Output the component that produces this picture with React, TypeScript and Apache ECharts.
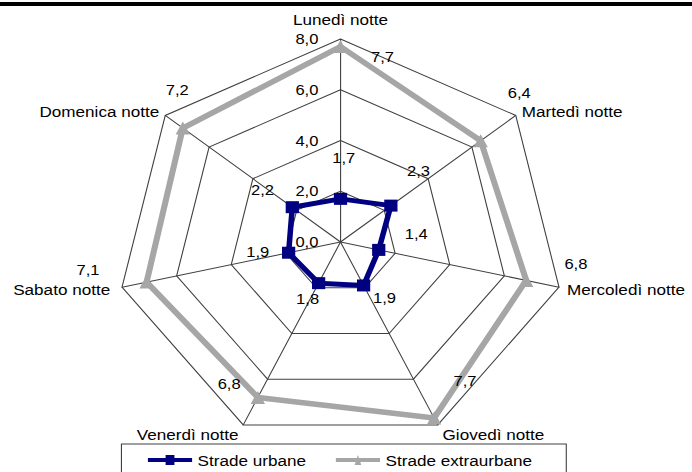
import React, { useEffect, useRef } from "react";
import * as echarts from "echarts";

// ---- data ----
const categories = [
  "Lunedì notte",
  "Martedì notte",
  "Mercoledì notte",
  "Giovedì notte",
  "Venerdì notte",
  "Sabato notte",
  "Domenica notte",
];
const urbane = [1.7, 2.3, 1.4, 1.9, 1.8, 1.9, 2.2];
const extraurbane = [7.7, 6.4, 6.8, 7.7, 6.8, 7.1, 7.2];
const seriesNames = ["Strade urbane", "Strade extraurbane"];
const axisMin = 0;
const axisMax = 8;
const axisSplits = 4;

// ---- styles (label offsets per category, px) ----
const urbaneLabelOffsets = [
  [3, -41], [25, -35], [34, -16], [19, 12], [-10, 16], [-28, -1], [-27, -17],
];
const extraLabelOffsets = [
  [38, 10], [35, -48], [45, -17], [28, -37], [-26, -14], [-53, -12], [-5, -38],
];
const nameGaps = [12, 7, 7.5, 10, 10, 11, 7];

const SCALE_X = 1.104;
const W = 692 / SCALE_X;
const H = 472;
const FONT = "'Liberation Sans', Arial, sans-serif";
const BLUE = "#000080";
const GREY = "#A6A6A6";

// echarts places indicators counter-clockwise from the top; the reference runs clockwise
const order = [0, 6, 5, 4, 3, 2, 1];
const fmt = (v: number) => v.toFixed(1).replace(".", ",");
const ordered = (arr: number[]) => order.map((i) => arr[i]);

export default function App() {
  const ref = useRef<HTMLDivElement>(null);

  useEffect(() => {
    if (!ref.current) return;
    const chart = echarts.init(ref.current, undefined, { renderer: "svg" });

    const indicator = order.map((ci, k) => {
      const ind: any = {
        name: categories[ci],
        min: axisMin,
        max: axisMax,
        nameGap: nameGaps[ci],
      };
      if (k === 0) {
        ind.axisLabel = {
          show: true,
          showMinLabel: true,
          showMaxLabel: true,
          margin: 20,
          color: "#000",
          fontSize: 15,
          fontFamily: FONT,
          formatter: (v: number) => fmt(v),
        };
      }
      return ind;
    });

    const labelItems: any[] = [];
    [urbane, extraurbane].forEach((vals, s) => {
      const offs = s === 0 ? urbaneLabelOffsets : extraLabelOffsets;
      categories.forEach((_, ci) => {
        const dimPos = order.indexOf(ci);
        labelItems.push({
          name: `lbl-${s}-${ci}`,
          value: ordered(vals),
          label: {
            show: true,
            position: "inside",
            offset: offs[ci],
            color: "#000",
            fontSize: 15,
            fontFamily: FONT,
            formatter: (p: any) =>
              p.dimensionIndex === dimPos ? fmt(vals[ci]) : "",
          },
        });
      });
    });

    chart.setOption({
      animation: false,
      backgroundColor: "#fff",
      textStyle: { fontFamily: FONT },
      graphic: [
        {
          type: "rect",
          left: 0,
          top: 2,
          shape: { width: W, height: 4 },
          style: { fill: "#000" },
        },
      ],
      legend: {
        left: 110,
        top: 444,
        orient: "horizontal",
        padding: [8, 31, 12, 24],
        borderColor: "#404040",
        borderWidth: 1,
        itemWidth: 40,
        itemHeight: 10,
        itemGap: 27,
        selectedMode: false,
        textStyle: { color: "#000", fontSize: 15.5, fontFamily: FONT },
        data: [
          {
            name: seriesNames[0],
            icon: "path://M0,3 L40,3 L40,7 L0,7 Z M16,0 L24,0 L24,10 L16,10 Z",
            itemStyle: { color: BLUE, borderWidth: 0 },
          },
          {
            name: seriesNames[1],
            icon: "path://M0,3 L40,3 L40,7 L0,7 Z M17,10 L20,0 L23,10 Z",
            itemStyle: { color: GREY, borderWidth: 0 },
          },
        ],
      },
      radar: {
        center: [340.5 / SCALE_X, 242],
        radius: 203,
        shape: "polygon",
        splitNumber: axisSplits,
        indicator,
        axisName: { color: "#000", fontSize: 15.5, fontFamily: FONT },
        axisLabel: { show: false },
        axisTick: { show: false },
        axisLine: { show: true, lineStyle: { color: "#404040", width: 1 } },
        splitLine: { show: true, lineStyle: { color: "#404040", width: 1 } },
        splitArea: { show: false },
      },
      series: [
        {
          type: "radar",
          z: 3,
          data: [
            {
              name: seriesNames[1],
              value: ordered(extraurbane),
              symbol: "triangle",
              symbolSize: 13,
              lineStyle: { color: GREY, width: 5.5 },
              itemStyle: { color: GREY, borderWidth: 0 },
            },
            {
              name: seriesNames[0],
              value: ordered(urbane),
              symbol: "rect",
              symbolSize: 12,
              lineStyle: { color: BLUE, width: 5 },
              itemStyle: { color: BLUE, borderWidth: 0 },
            },
          ],
        },
        {
          type: "radar",
          z: 5,
          silent: true,
          symbol: "circle",
          symbolSize: 1,
          itemStyle: { color: "rgba(0,0,0,0)", borderWidth: 0 },
          lineStyle: { width: 0, opacity: 0 },
          data: labelItems,
        },
      ],
    });

    return () => chart.dispose();
  }, []);

  return (
    <div
      ref={ref}
      style={{
        position: "fixed",
        left: 0,
        top: 0,
        width: W,
        height: H,
        transform: `scaleX(${SCALE_X})`,
        transformOrigin: "0 0",
      }}
    />
  );
}
